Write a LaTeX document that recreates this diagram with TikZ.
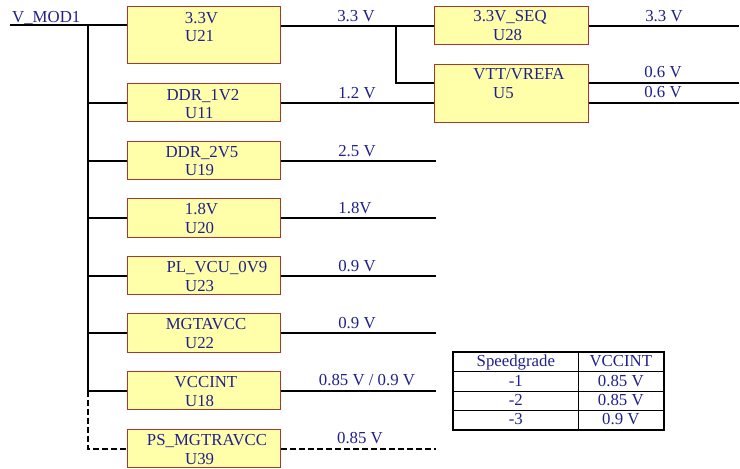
\documentclass[tikz,border=0pt]{standalone}
\usepackage{fontspec}
\setmainfont{Liberation Serif}
\definecolor{txtblue}{RGB}{32,32,140}
\definecolor{boxfill}{RGB}{255,255,170}
\definecolor{boxline}{RGB}{165,55,45}
\begin{document}
\begin{tikzpicture}[x=1pt,y=-1pt,
  wire/.style={line width=1.8pt,black},
  dashwire/.style={line width=1.8pt,black,dash pattern=on 6pt off 3pt},
  reg/.style={draw=boxline,fill=boxfill,line width=1.2pt,rectangle,inner sep=0pt,minimum width=153pt,anchor=north west},
  lbl/.style={text=txtblue,font=\fontsize{16.8}{20}\selectfont,inner sep=0pt,anchor=base},
  lbll/.style={lbl,anchor=base west},
  cell/.style={draw=black,line width=0.7pt,rectangle,inner sep=0pt,anchor=north west,minimum height=19.25pt,text height=12pt,text depth=2pt,text=txtblue,font=\fontsize{16.8}{20}\selectfont}
]
\useasboundingbox (0,0) rectangle (740,469);

% regulator boxes
\node[reg,minimum height=57pt] (U21) at (127,6) {};
\node[reg,minimum height=38pt] (U11) at (127,83) {};
\node[reg,minimum height=38pt] (U19) at (127,141) {};
\node[reg,minimum height=39pt] (U20) at (127,198) {};
\node[reg,minimum height=38pt] (U23) at (127,256) {};
\node[reg,minimum height=39pt] (U22) at (127,313) {};
\node[reg,minimum height=38pt] (U18) at (127,371) {};
\node[reg,minimum height=38pt] (U39) at (127,429) {};
\node[reg,minimum width=154pt,minimum height=38pt] (U28) at (434,6) {};
\node[reg,minimum width=154pt,minimum height=58pt] (U5) at (434,64) {};

% box texts
\node[lbl] (t21a) at (201.5,23) {3.3V};
\node[lbll] (t21b) at (185,41) {U21};
\node[lbl] (t11a) at (203,100) {DDR\_1V2};
\node[lbll] (t11b) at (185,118) {U11};
\node[lbl] (t19a) at (202,157) {DDR\_2V5};
\node[lbll] (t19b) at (185,175) {U19};
\node[lbl] (t20a) at (201.5,214) {1.8V};
\node[lbll] (t20b) at (185,233) {U20};
\node[lbl] (t23a) at (217,272) {PL\_VCU\_0V9};
\node[lbll] (t23b) at (185,291) {U23};
\node[lbl] (t22a) at (206,329) {MGTAVCC};
\node[lbll] (t22b) at (185,348) {U22};
\node[lbl] (t18a) at (206,387) {VCCINT};
\node[lbll] (t18b) at (185,406) {U18};
\node[lbl] (t39a) at (207,445) {PS\_MGTRAVCC};
\node[lbll] (t39b) at (185,464) {U39};
\node[lbl] (t28a) at (510,21) {3.3V\_SEQ};
\node[lbll] (t28b) at (493,40) {U28};
\node[lbl] (t5a) at (519,79) {VTT/VREFA};
\node[lbll] (t5b) at (493,98) {U5};

% input
\coordinate (vin) at (10,25);
\coordinate (bus) at (88,25);
\coordinate (oend) at (436,0);
\coordinate (rend) at (739,0);
\coordinate (jn) at (396,25);
\coordinate (t83) at (0,83);
\node[lbll] (vmod) at (12,22) {V\_MOD1};
\draw[wire] (vin) -- (vin -| U21.west);
\draw[wire] (bus) -- (bus |- U18.west);
\foreach \u in {U11,U19,U20,U23,U22,U18}{
  \draw[wire] (bus |- \u.west) -- (\u.west);
}
\draw[dashwire] (bus |- U18.west) |- (U39.west);

% outputs
\draw[wire] (U28.west -| U21.east) -- (U28.west);
\draw[wire] (jn) |- (U5.west |- t83);
\draw[wire] (U11.east) -- (U5.west |- U11.east);
\foreach \u in {U19,U20,U23,U22,U18}{
  \draw[wire] (\u.east) -- (\u.east -| oend);
}
\draw[dashwire] (U39.east) -- (U39.east -| oend);
\draw[wire] (U28.east) -- (U28.east -| rend);
\draw[wire] (U5.east |- t83) -- (rend |- t83);
\draw[wire] (U5.east |- U11.east) -- (rend |- U11.east);

% output labels
\node[lbl] (o21) at (356,21) {3.3 V};
\node[lbl] (o11) at (357,98) {1.2 V};
\node[lbl] (o19) at (357,156) {2.5 V};
\node[lbl] (o20) at (355,213) {1.8V};
\node[lbl] (o23) at (357,271) {0.9 V};
\node[lbl] (o22) at (357,328) {0.9 V};
\node[lbl] (o18) at (367,385) {0.85 V / 0.9 V};
\node[lbl] (o39) at (360,443) {0.85 V};
\node[lbl] (o28) at (664,21) {3.3 V};
\node[lbl] (o5a) at (663,77) {0.6 V};
\node[lbl] (o5b) at (663,97) {0.6 V};

% table
\node[cell,minimum width=125pt] (c11) at (453,352) {Speedgrade};
\node[cell,minimum width=85pt] (c12) at (578,352) {VCCINT};
\node[cell,minimum width=125pt] (c21) at (453,371.25) {-1};
\node[cell,minimum width=85pt] (c22) at (578,371.25) {0.85 V};
\node[cell,minimum width=125pt] (c31) at (453,390.5) {-2};
\node[cell,minimum width=85pt] (c32) at (578,390.5) {0.85 V};
\node[cell,minimum width=125pt] (c41) at (453,409.75) {-3};
\node[cell,minimum width=85pt] (c42) at (578,409.75) {0.9 V};
\draw[line width=1.8pt] (c11.north west) rectangle (c42.south east);
\end{tikzpicture}
\end{document}
